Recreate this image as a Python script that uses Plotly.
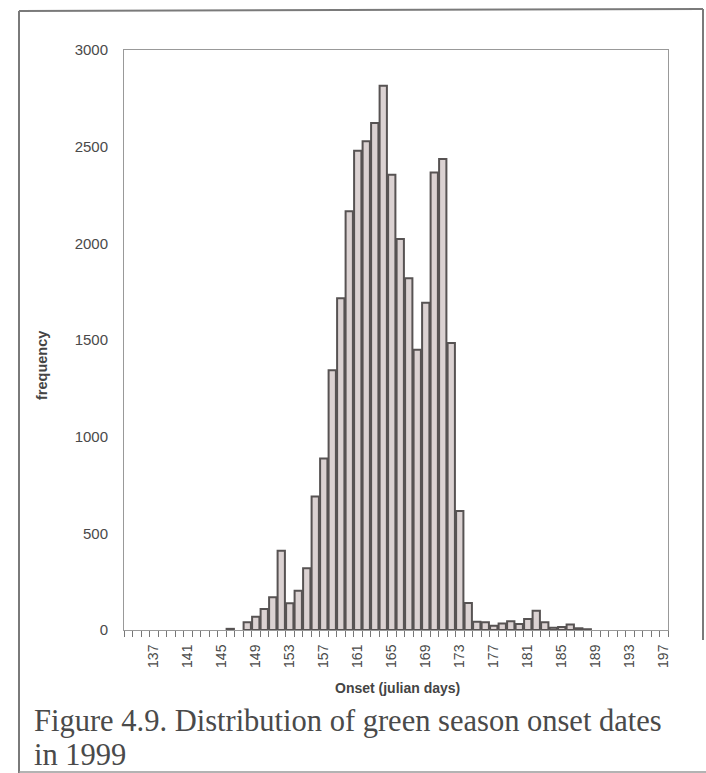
import plotly.graph_objects as go

# Onset day (julian) and pixel count for each day with at least one onset
onset_days = [146, 148, 149, 150, 151, 152, 153, 154, 155, 156, 157, 158, 159,
              160, 161, 162, 163, 164, 165, 166, 167, 168, 169, 170, 171, 172,
              173, 174, 175, 176, 177, 178, 179, 180, 181, 182, 183, 184, 185,
              186, 187, 188]
frequency = [6, 40, 69, 108, 169, 410, 139, 203, 320, 690, 887, 1343, 1716,
             2166, 2479, 2528, 2622, 2815, 2355, 2023, 1820, 1450, 1693, 2367, 2436, 1484,
             616, 140, 43, 40, 22, 33, 45, 31, 57, 100, 40, 12, 15,
             28, 9, 4]

x_tick_days = list(range(137, 198, 4))
y_ticks = [0, 500, 1000, 1500, 2000, 2500, 3000]
day_min, day_max = 134, 197

W, H = 706, 773
PL, PR, PT, PB = 124, 668, 50, 630  # plot box in pixels


def px(x):
    return (x - PL) / (PR - PL)


def py(y):
    return (PB - y) / (PB - PT)


fig = go.Figure(
    go.Bar(
        x=onset_days,
        y=frequency,
        marker=dict(color="#dbd2d2", line=dict(color="#575353", width=2)),
    )
)

fig.update_layout(
    width=W,
    height=H,
    margin=dict(l=PL, r=W - PR, t=PT, b=H - PB, pad=0),
    paper_bgcolor="white",
    plot_bgcolor="white",
    bargap=0.14,
    showlegend=False,
    font=dict(family="Liberation Sans, Arial, sans-serif", color="#555"),
)

fig.update_xaxes(
    range=[day_min - 0.5, day_max + 0.5],
    tickmode="array",
    tickvals=x_tick_days,
    ticktext=[str(d) for d in x_tick_days],
    tickangle=-90,
    ticks="outside",
    ticklen=8,
    tickcolor="rgba(0,0,0,0)",
    tickfont=dict(size=14, color="#4a4a4a"),
    minor=dict(ticks="outside", tick0=day_min - 0.5, dtick=1, ticklen=6,
               tickcolor="#777", tickwidth=1),
    showgrid=False,
    zeroline=False,
    showline=True,
    mirror=True,
    linecolor="#999",
    linewidth=1,
)

fig.update_yaxes(
    range=[0, 3000],
    tickmode="array",
    tickvals=y_ticks,
    ticks="outside",
    ticklen=12,
    tickcolor="rgba(0,0,0,0)",
    tickfont=dict(size=15, color="#4a4a4a"),
    showgrid=False,
    zeroline=False,
    showline=True,
    mirror=True,
    linecolor="#999",
    linewidth=1,
)

caption_font = dict(family="Liberation Serif, Times New Roman, serif", size=30.5, color="#4a4a4a")
annotations = [
    dict(text="<b>frequency</b>", x=px(42), y=py(366), textangle=-90,
         font=dict(size=14.5, color="#444")),
    dict(text="<b>Onset (julian days)</b>", x=px(397), y=py(688),
         font=dict(size=14, color="#444")),
    dict(text="Figure 4.9. Distribution of green season onset dates",
         x=px(32), y=py(720.5), xanchor="left", font=caption_font),
    dict(text="in 1999",
         x=px(32), y=py(755), xanchor="left", font=caption_font),
]
for a in annotations:
    a.update(xref="paper", yref="paper", showarrow=False)
    a.setdefault("xanchor", "center")
    a.setdefault("yanchor", "middle")
fig.update_layout(annotations=annotations)

# outer figure frame
frame = dict(type="line", xref="paper", yref="paper", line=dict(color="#7a7a7a", width=2))
fig.update_layout(shapes=[
    dict(frame, x0=px(19), x1=px(703), y0=py(11), y1=py(9)),
    dict(frame, x0=px(19), x1=px(19), y0=py(11), y1=py(773)),
    dict(frame, x0=px(703), x1=px(703), y0=py(9), y1=py(640)),
    dict(frame, x0=px(19), x1=px(706), y0=py(772), y1=py(772),
         line=dict(color="#9a9a9a", width=1.5)),
])

fig.write_html("out.html")
